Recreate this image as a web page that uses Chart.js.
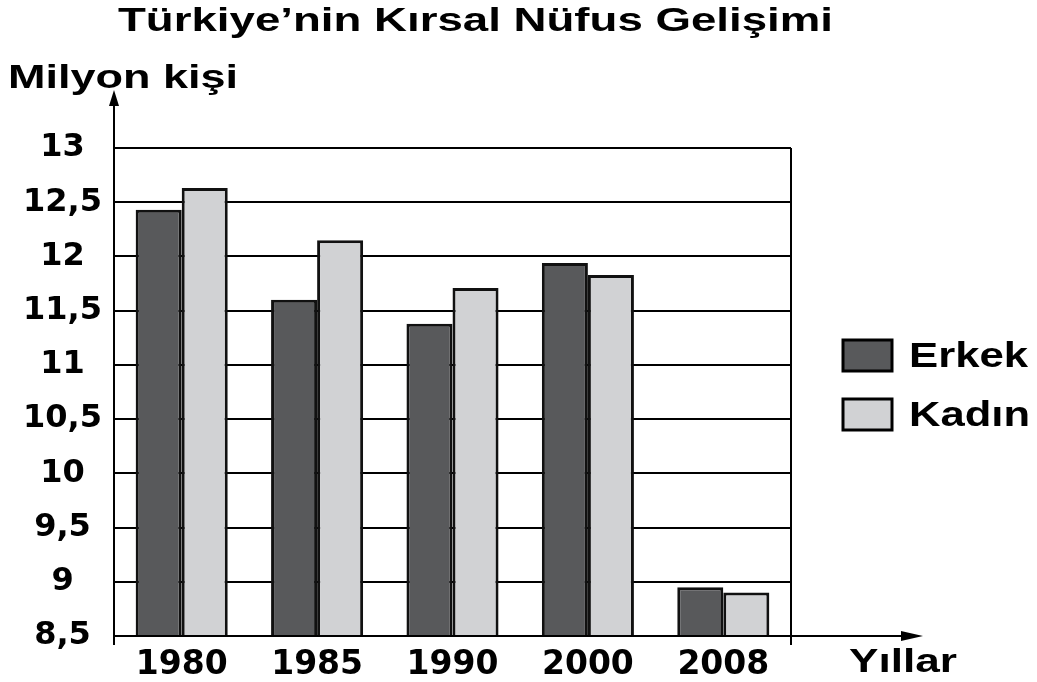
<!DOCTYPE html>
<html>
<head>
<meta charset="utf-8">
<script src="https://cdn.jsdelivr.net/npm/chart.js@4.4.0/dist/chart.umd.min.js"></script>
<style>
  html, body { margin: 0; background: #fff; }
  #wrap { width: 1037px; height: 682px; }
</style>
</head>
<body>
<div id="wrap"><canvas id="c"></canvas></div>
<script>
// --- data ---
const years = ['1980', '1985', '1990', '2000', '2008'];
const erkek = [12.43, 11.60, 11.38, 11.94, 8.95];
const kadin = [12.63, 12.15, 11.71, 11.83, 8.90];
const yTicks = [8.5, 9, 9.5, 10, 10.5, 11, 11.5, 12, 12.5, 13];

const titleText = 'Türkiye’nin Kırsal Nüfus Gelişimi';
const yTitle = 'Milyon kişi';
const xTitle = 'Yıllar';

const FONT = '"DejaVu Sans", "Liberation Sans", Arial, sans-serif';
const ARIAL = '"Liberation Sans", Arial, sans-serif';

// the source lettering is wide, so stretch a string to the width it has there
function wideText(ctx, text, x, y, w, size) {
  ctx.font = 'bold ' + size + 'px ' + ARIAL;
  const k = w / ctx.measureText(text).width;
  ctx.save();
  ctx.translate(x, y);
  ctx.scale(k, 1);
  ctx.textAlign = 'left';
  ctx.textBaseline = 'middle';
  ctx.fillText(text, 0, 0);
  ctx.restore();
}

// axes with arrows, right frame line, titles and legend
const decor = {
  id: 'decor',
  afterDraw(chart) {
    const ctx = chart.ctx;
    const a = chart.chartArea;
    ctx.save();
    ctx.strokeStyle = '#000';
    ctx.fillStyle = '#000';
    ctx.lineWidth = 2;

    // y axis + arrow
    ctx.beginPath();
    ctx.moveTo(a.left, 100); ctx.lineTo(a.left, a.bottom + 9);
    ctx.stroke();
    ctx.beginPath();
    ctx.moveTo(a.left, 90); ctx.lineTo(a.left - 5, 106); ctx.lineTo(a.left + 5, 106);
    ctx.closePath(); ctx.fill();

    // x axis + arrow
    ctx.beginPath();
    ctx.moveTo(a.left, a.bottom); ctx.lineTo(905, a.bottom);
    ctx.stroke();
    ctx.beginPath();
    ctx.moveTo(923, a.bottom); ctx.lineTo(901, a.bottom - 5); ctx.lineTo(901, a.bottom + 5);
    ctx.closePath(); ctx.fill();

    // right frame line
    ctx.beginPath();
    ctx.moveTo(a.right, a.top); ctx.lineTo(a.right, a.bottom + 9);
    ctx.stroke();

    // titles
    wideText(ctx, titleText, 118, 22, 715, 34);
    wideText(ctx, yTitle, 8, 79, 230, 34);
    wideText(ctx, xTitle, 849, 663, 108, 34);

    // legend
    chart.data.datasets.forEach((ds, i) => {
      const y = 340 + i * 59;
      ctx.fillStyle = ds.backgroundColor;
      ctx.fillRect(843, y, 49, 31);
      ctx.lineWidth = 3;
      ctx.strokeRect(843, y, 49, 31);
      ctx.fillStyle = '#000';
      wideText(ctx, ds.label, 909, y + 17, i === 0 ? 119 : 121, 35);
    });
    ctx.restore();
  }
};

new Chart(document.getElementById('c'), {
  type: 'bar',
  data: {
    labels: years,
    datasets: [
      { label: 'Erkek', data: erkek, backgroundColor: '#58595b', borderColor: '#111', borderWidth: 3, borderSkipped: false },
      { label: 'Kadın', data: kadin, backgroundColor: '#d1d2d4', borderColor: '#111', borderWidth: 3, borderSkipped: false }
    ]
  },
  options: {
    responsive: true,
    maintainAspectRatio: false,
    animation: false,
    layout: { padding: { top: 148, right: 246, left: 0, bottom: 0 } },
    datasets: { bar: { categoryPercentage: 0.68, barPercentage: 1.0 } },
    plugins: { legend: { display: false }, tooltip: { enabled: false } },
    scales: {
      x: {
        grid: { display: false },
        border: { display: false },
        ticks: { color: '#000', padding: 2, font: { family: FONT, size: 33, weight: 'bold' } },
        afterFit: s => { s.height = 46; }
      },
      y: {
        min: 8.5,
        max: 13,
        afterBuildTicks: s => { s.ticks = yTicks.map(v => ({ value: v })); },
        grid: { color: '#000', lineWidth: 2, drawTicks: false },
        border: { display: false },
        ticks: {
          color: '#000', padding: 12, crossAlign: 'center',
          font: { family: FONT, size: 32, weight: 'bold' },
          callback: v => String(v).replace('.', ',')
        },
        afterFit: s => { s.width = 114; }
      }
    }
  },
  plugins: [decor]
});
</script>
</body>
</html>
